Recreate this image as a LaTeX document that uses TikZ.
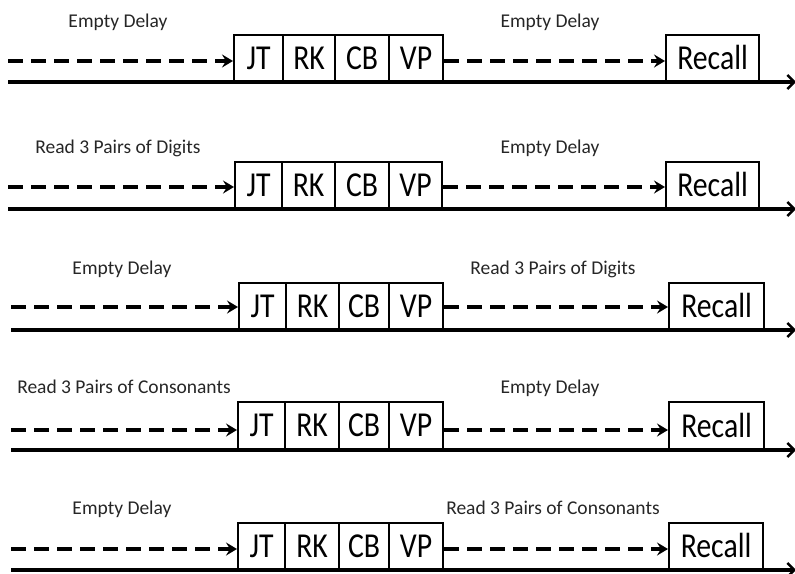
\documentclass[tikz,border=0pt]{standalone}
\usepackage{fontspec}
\setmainfont{Carlito}
\usetikzlibrary{arrows.meta}

% condensed task name inside a box, set a little low
\newcommand\tasktext[1]{\raisebox{-3pt}{\scalebox{0.85}[1]{#1}}}

\tikzset{
  phase/.style={draw=black, line width=2.2pt, inner sep=0pt, anchor=south west,
    font=\fontsize{35}{40}\selectfont},
  tasklabel/.style={anchor=base, inner sep=0pt, text=black!85,
    font=\fontsize{19.5}{22}\selectfont},
  timeline/.style={line width=3.2pt, -{Straight Barb[length=7pt,width=14pt,line width=2.4pt]}},
  delayline/.style={line width=3.2pt, dash pattern=on 15pt off 8pt,
    -{Stealth[length=11pt,width=13pt,inset=4pt]}}
}

\begin{document}
\begin{tikzpicture}[x=1pt, y=-1pt]
  \useasboundingbox (0,0) rectangle (795,573);

  % one trial per row: box edges, delay height, recall box, labels
  \foreach \r/\top/\bot/\dy/\xa/\xb/\xc/\xd/\xe/\ra/\rb/\sx/\ly/\lx/\rx/\lt/\rt in {
    1/36/82/61/233/282/334/388/442/665/758/8/27/118/550/Empty Delay/Empty Delay,
    2/163/209/187/234/281/334/388/441/665/758/8/153/118/550/Read 3 Pairs of Digits/Empty Delay,
    3/284/330/307/238/285/338/388/442/668/763/11/274/122/553/Empty Delay/Read 3 Pairs of Digits,
    4/403/450/430/237/284/338/388/442/668/763/11/393/124/550/Read 3 Pairs of Consonants/Empty Delay,
    5/524/570/549/237/284/338/388/442/668/762/11/514/122/553/Empty Delay/Read 3 Pairs of Consonants}
  {
    % task boxes
    \pgfmathsetmacro{\hh}{\bot-\top}
    \node[phase, minimum height=\hh pt, minimum width={(\xb-\xa)*1pt}] (jt\r) at (\xa,\bot) {\tasktext{JT}};
    \node[phase, minimum height=\hh pt, minimum width={(\xc-\xb)*1pt}] (rk\r) at (\xb,\bot) {\tasktext{RK}};
    \node[phase, minimum height=\hh pt, minimum width={(\xd-\xc)*1pt}] (cb\r) at (\xc,\bot) {\tasktext{CB}};
    \node[phase, minimum height=\hh pt, minimum width={(\xe-\xd)*1pt}] (vp\r) at (\xd,\bot) {\tasktext{VP}};
    \node[phase, minimum height=\hh pt, minimum width={(\rb-\ra)*1pt}] (rc\r) at (\ra,\bot) {\tasktext{Recall}};

    % delay labels
    \node[tasklabel] (la\r) at (\lx,\ly) {\lt};
    \node[tasklabel] (lb\r) at (\rx,\ly) {\rt};

    % time axis
    \coordinate (t0\r) at (\sx,\bot);
    \coordinate (t1\r) at (796,\bot);
    \draw[timeline] (t0\r) -- (t1\r);

    % delay arrows
    \coordinate (d0\r) at (\sx,\dy);
    \draw[delayline] (d0\r) -- (d0\r -| jt\r.west);
    \draw[delayline] (d0\r -| vp\r.east) -- (d0\r -| rc\r.west);
  }
\end{tikzpicture}
\end{document}
